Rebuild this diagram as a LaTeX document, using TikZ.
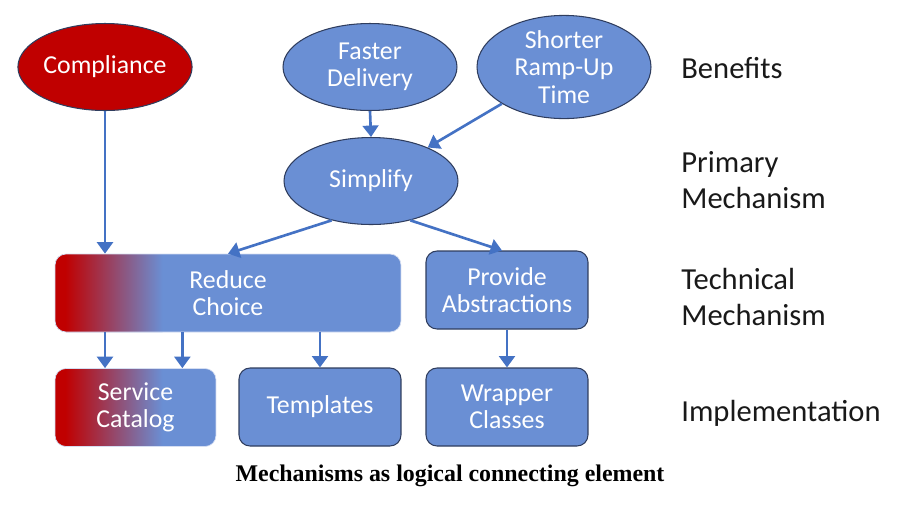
\documentclass[tikz,border=0pt]{standalone}
\usepackage{fontspec}
\setmainfont{Carlito}
\newfontfamily\capfont{Liberation Serif}
\usepackage{tikz}
\usetikzlibrary{arrows.meta,shapes.geometric}
\definecolor{MechBlue}{HTML}{6A8FD4}
\definecolor{MechRed}{HTML}{C00000}
\definecolor{MechEdge}{HTML}{2F3D5E}
\definecolor{MechArrow}{HTML}{4472C4}
\definecolor{MechLight}{HTML}{D5DEF2}

\tikzset{
  goal/.style={ellipse,draw=MechEdge,line width=0.6pt,fill=MechBlue,text=white,
    minimum width=3.48cm,minimum height=1.74cm,inner sep=0pt,align=center,
    font=\fontsize{14.7}{15.6}\selectfont},
  mech/.style={rectangle,rounded corners=0.22cm,draw=MechEdge,line width=0.6pt,
    fill=MechBlue,text=white,minimum height=1.56cm,inner sep=0pt,align=center,
    font=\fontsize{14.7}{15.6}\selectfont},
  mixed/.style={mech,draw=MechLight,line width=0.4pt,
    path picture={
      \fill[MechRed,sharp corners] (path picture bounding box.south west)
        rectangle ([xshift=0.2cm]path picture bounding box.north west);
      \shade[left color=MechRed,right color=MechBlue,sharp corners]
        ([xshift=0.2cm]path picture bounding box.south west)
        rectangle ([xshift=2.15cm]path picture bounding box.north west);}},
  level/.style={anchor=west,align=left,inner sep=0pt,text=black!90,
    font=\fontsize{17.4}{20.4}\selectfont},
  link/.style={-{Triangle[width=9pt,length=6.5pt]},line width=1.5pt,MechArrow}
}

\begin{document}
\begin{tikzpicture}[x=0.02cm,y=-0.02cm]
  \useasboundingbox (0,0) rectangle (912,522);
  % benefits
  \node[goal,fill=MechRed] (comp) at (105,67) {Compliance};
  \node[goal] (fast) at (370,67) {Faster\\Delivery};
  \node[goal] (ramp) at (564,67) {Shorter\\Ramp-Up\\Time};
  % primary mechanism
  \node[goal] (simp) at (371,181) {Simplify};
  % technical mechanism
  \node[mixed,minimum width=6.92cm] (reduce) at (228,293) {Reduce\\Choice};
  \node[mech,minimum width=3.24cm] (prov) at (507,290) {Provide\\Abstractions};
  % implementation
  \node[mixed,minimum width=3.22cm] (serv) at (135.5,407.5) {Service\\Catalog};
  \node[mech,minimum width=3.24cm] (tmpl) at (320,407) {Templates};
  \node[mech,minimum width=3.24cm] (wrap) at (507,407) {Wrapper\\Classes};
  % levels
  \node[level] (lben) at (681,68) {Benefits};
  \node[level] (lpri) at (681,180) {Primary\\Mechanism};
  \node[level] (ltec) at (681,297) {Technical\\Mechanism};
  \node[level] (limp) at (681,413) {Implementation};
  \node[font=\capfont\bfseries\fontsize{13.6}{16}\selectfont] (cap) at (450,476)
    {Mechanisms as logical connecting element};

  \coordinate (c2) at ([xshift=-0.68cm]serv.north east);
  \draw[link] (comp.south) -- (comp.south |- reduce.north);
  \draw[link] (fast.south) -- (simp.north);
  \draw[link] (ramp) -- (simp);
  \draw[link] (simp.225) -- (reduce.north);
  \draw[link] (simp.-45) -- ([xshift=-0.1cm]prov.north);
  \draw[link] (comp.south |- reduce.south) -- (comp.south |- serv.north);
  \draw[link] (c2 |- reduce.south) -- (c2);
  \draw[link] (tmpl.north |- reduce.south) -- (tmpl.north);
  \draw[link] (prov.south) -- (wrap.north);
\end{tikzpicture}
\end{document}
